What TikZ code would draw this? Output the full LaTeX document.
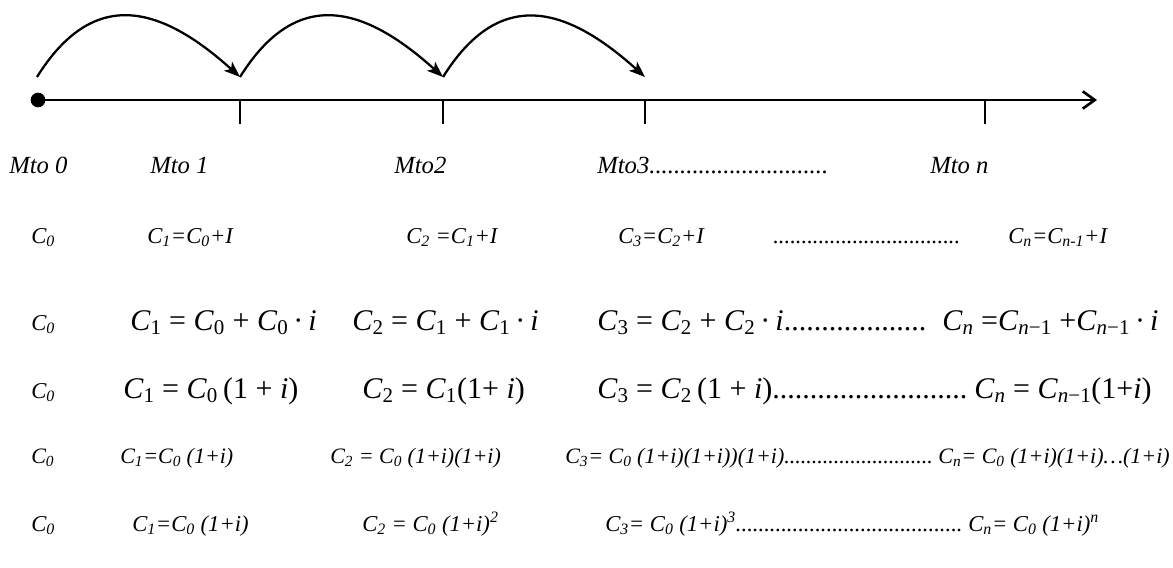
\documentclass[tikz,border=0pt]{standalone}
\usepackage{fontspec}
\setmainfont{Liberation Serif}
\usetikzlibrary{arrows.meta}
\newcommand{\Ci}[1]{\textit{C\textsubscript{#1}}}
\newcommand{\Cm}[1]{\textit{C}\textsubscript{#1}}
\newcommand{\dotrun}[1]{\hbox to #1{\leaders\hbox{.}\hfill}}
\tikzset{
	lbl/.style     ={anchor=base west, inner sep=0pt, font=\itshape\fontsize{17}{19}\selectfont},
	eqn/.style     ={anchor=base west, inner sep=0pt, font=\fontsize{22.5}{26}\selectfont},
	hop/.style     ={-{Stealth[length=12pt,width=9pt,inset=3pt]}, line width=1.7pt},
	timeline/.style={-{Straight Barb[length=9pt,width=13pt]}, line width=2pt},
	tickmark/.style={line width=1.4pt},
}
\begin{document}
\begin{tikzpicture}[x=0.75pt, y=-0.75pt]
	\useasboundingbox (0,0) rectangle (1173,567);
	% time line
	\node[circle, fill, inner sep=0pt, minimum size=11pt] (o) at (38,100) {};
	\coordinate (e) at (1097,100);
	\draw[timeline] (o.center) -- (e);
	\foreach \x [count=\k] in {240,443,645,985} {
		\coordinate (t\k) at (\x,100);
		\draw[tickmark] (t\k) -- ++(0,24);
	}
	% hops
	\coordinate (j0) at (37,77);
	\foreach \x [count=\k] in {240,443,645} \coordinate (j\k) at (\x,77);
	\foreach \a/\b in {j0/j1, j1/j2, j2/j3}
		\draw[hop] (\a) to[out=58, in=138, looseness=1.35] (\b);
	% moments
	\begin{scope}[lbl/.append style={font=\itshape\fontsize{18.5}{20}\selectfont}]
		\node[lbl] (m0) at (9,173) {Mto 0};
		\node[lbl] (m1) at (150,173) {Mto 1};
		\node[lbl] (m2) at (394,173) {Mto2};
		\node[lbl] (m3) at (597,173) {Mto3\dotrun{138pt}};
		\node[lbl] (mn) at (930,173) {Mto n};
	\end{scope}
	% simple interest
	\node[lbl] (a0) at (31,243) {\Ci{0}};
	\node[lbl] (a1) at (147,243) {\Ci{1}=\Ci{0}+I};
	\node[lbl] (a2) at (406,243) {\Ci{2} =\Ci{1}+I};
	\node[lbl] (a3) at (618,243) {\Ci{3}=\Ci{2}+I};
	\node[lbl] (ad) at (773,243) {\dotrun{143pt}};
	\node[lbl] (an) at (1008,243) {\Ci{n}=\Ci{n-1}+I};
	% compound, first form
	\node[lbl] (b0) at (31,330) {\Ci{0}};
	\node[eqn] (b1) at (130,330) {\Cm{1} = \Cm{0} + \Cm{0}\,·\,\textit{i}};
	\node[eqn] (b2) at (352,330) {\Cm{2} = \Cm{1} + \Cm{1}\,·\,\textit{i}};
	\node[eqn] (b3) at (597,330) {\Cm{3} = \Cm{2} + \Cm{2}\,·\,\textit{i}\dotrun{110pt}};
	\node[eqn] (bn) at (942,330) {\Cm{\textit{n}} =\Cm{\textit{n}−1} +\Cm{\textit{n}−1}\,·\,\textit{i}};
	% compound, factored
	\node[lbl] (c0) at (31,398) {\Ci{0}};
	\node[eqn] (c1) at (123,398) {\Cm{1} = \Cm{0}\,(1 + \textit{i})};
	\node[eqn] (c2) at (362,398) {\Cm{2} = \Cm{1}(1+ \textit{i})};
	\node[eqn] (c3) at (597,398) {\Cm{3} = \Cm{2}\,(1 + \textit{i})\dotrun{148pt}};
	\node[eqn] (cn) at (974,398) {\Cm{\textit{n}} = \Cm{\textit{n}−1}(1+\textit{i})};
	% expanded
	\begin{scope}[lbl/.append style={font=\itshape\fontsize{16.5}{19}\selectfont}]
		\node[lbl] (d0) at (31,463) {\Ci{0}};
		\node[lbl] (d1) at (120,463) {\Ci{1}=\Ci{0} (1+i)};
		\node[lbl] (d2) at (330,463) {\Ci{2} = \Ci{0} (1+i)(1+i)};
		\node[lbl] (d3) at (565,463) {\Ci{3}= \Ci{0} (1+i)(1+i))(1+i)\dotrun{112pt}};
		\node[lbl, anchor=base east] (dn) at (1170,463) {\Ci{n}= \Ci{0} (1+i)(1+i)…(1+i)};
	\end{scope}
	% powers
	\node[lbl] (f0) at (31,531) {\Ci{0}};
	\node[lbl] (f1) at (132,531) {\Ci{1}=\Ci{0} (1+i)};
	\node[lbl] (f2) at (362,531) {\Ci{2} = \Ci{0} (1+i)\textsuperscript{2}};
	\node[lbl] (f3) at (605,531) {\Ci{3}= \Ci{0} (1+i)\textsuperscript{3}\dotrun{172pt}};
	\node[lbl] (fn) at (968,531) {\Ci{n}= \Ci{0} (1+i)\textsuperscript{n}};
\end{tikzpicture}
\end{document}
